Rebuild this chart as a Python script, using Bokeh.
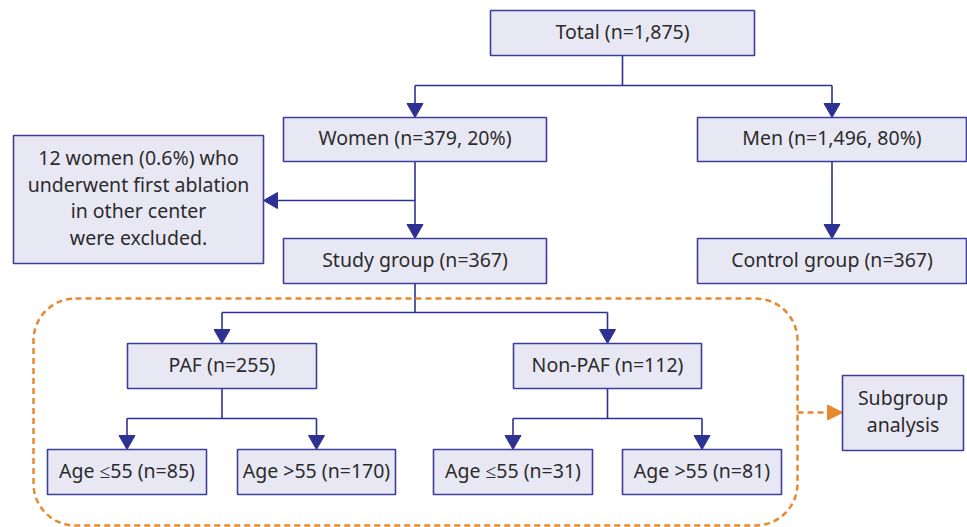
from bokeh.plotting import figure
from bokeh.models import Range1d, BoxAnnotation
from bokeh.core.properties import value
from bokeh.embed import file_html
from bokeh.resources import INLINE

# ---- data ----
total_n = 1875
women_n, women_pct = 379, 20
men_n, men_pct = 1496, 80
excluded_n, excluded_pct = 12, 0.6
study_n = 367
control_n = 367
paf_n = 255
nonpaf_n = 112
paf_age_n = [85, 170]
nonpaf_age_n = [31, 81]

labels = {
    "total": f"Total (n={total_n:,})",
    "women": f"Women (n={women_n:,}, {women_pct}%)",
    "men": f"Men (n={men_n:,}, {men_pct}%)",
    "excl": f"{excluded_n} women ({excluded_pct}%) who\nunderwent first ablation\nin other center\nwere excluded.",
    "study": f"Study group (n={study_n})",
    "control": f"Control group (n={control_n})",
    "paf": f"PAF (n={paf_n})",
    "nonpaf": f"Non-PAF (n={nonpaf_n})",
    "paf_le": f"Age \u226455 (n={paf_age_n[0]})",
    "paf_gt": f"Age >55 (n={paf_age_n[1]})",
    "np_le": f"Age \u226455 (n={nonpaf_age_n[0]})",
    "np_gt": f"Age >55 (n={nonpaf_age_n[1]})",
    "sub": "Subgroup\nanalysis",
}

# ---- layout (left, right, top, bottom) ----
layout = {
    "total": (490, 754, 10, 55),
    "women": (283, 546, 117, 161),
    "men": (697, 966, 117, 161),
    "excl": (13, 263, 135, 263),
    "study": (283, 546, 238, 283),
    "control": (697, 966, 238, 283),
    "paf": (127, 316, 343, 388),
    "nonpaf": (513, 701, 343, 388),
    "paf_le": (47, 206, 449, 494),
    "paf_gt": (237, 395, 449, 494),
    "np_le": (433, 592, 449, 494),
    "np_gt": (622, 781, 449, 494),
    "sub": (842, 963, 375, 450),
}
branch_y = {"total": 85, "study": 312, "paf": 418, "nonpaf": 418}
tree = {"total": ["women", "men"], "study": ["paf", "nonpaf"],
        "paf": ["paf_le", "paf_gt"], "nonpaf": ["np_le", "np_gt"]}
straight = [("women", "study"), ("men", "control")]

FILL = "#e8e8f4"
EDGE = "#3d3d9c"
LINE = "#2e3192"
ORANGE = "#e8892f"
TXT = "#2b2b2b"
AH_W, AH_H = 16, 14

p = figure(width=967, height=527, output_backend="svg", toolbar_location=None,
           x_range=Range1d(0, 967), y_range=Range1d(527, 0),
           min_border=0, outline_line_color=None)
p.axis.visible = False
p.grid.visible = False
p.background_fill_color = "white"
p.border_fill_color = "white"

def cx(k):
    l, r, t, b = layout[k]
    return (l + r) / 2

# connectors
xs, ys = [], []
heads_x, heads_y = [], []
def down_arrow(x, y0, y1):
    xs.append([x, x]); ys.append([y0, y1 - AH_H])
    heads_x.append([x - AH_W / 2, x + AH_W / 2, x])
    heads_y.append([y1 - AH_H, y1 - AH_H, y1])

for parent, kids in tree.items():
    px = cx(parent); pb = layout[parent][3]; by = branch_y[parent]
    xs.append([px, px]); ys.append([pb, by])
    kx = [cx(k) for k in kids]
    xs.append([min(kx), max(kx)]); ys.append([by, by])
    for k in kids:
        down_arrow(cx(k), by, layout[k][2])
for a, b in straight:
    down_arrow(cx(a), layout[a][3], layout[b][2])

# exclusion arrow (to the left)
ex_y = 200
ex_x0 = cx("women")
ex_tip = layout["excl"][1]
xs.append([ex_x0, ex_tip + AH_H]); ys.append([ex_y, ex_y])
heads_x.append([ex_tip + AH_H, ex_tip + AH_H, ex_tip])
heads_y.append([ex_y - AH_W / 2, ex_y + AH_W / 2, ex_y])

p.multi_line(xs, ys, line_color=LINE, line_width=1.6)
p.patches(heads_x, heads_y, fill_color=LINE, line_color=LINE)

# dashed rounded region
region = BoxAnnotation(left=33, right=797, top=298, bottom=525,
                       fill_alpha=0, fill_color=None,
                       line_color=ORANGE, line_alpha=1.0, line_width=2.5,
                       line_dash="6 4", border_radius=42)
p.add_layout(region)

# dashed arrow to subgroup box
sub_l = layout["sub"][0]
sy = 412
p.line([797, sub_l - 15], [sy, sy], line_color=ORANGE, line_width=2.5, line_dash="6 4")
p.patch([sub_l - 15, sub_l - 15, sub_l], [sy - 7.5, sy + 7.5, sy],
        fill_color=ORANGE, line_color=ORANGE)

# boxes
keys = list(layout.keys())
p.quad(left=[layout[k][0] for k in keys], right=[layout[k][1] for k in keys],
       top=[layout[k][2] for k in keys], bottom=[layout[k][3] for k in keys],
       fill_color=FILL, line_color=EDGE, line_width=1.6)

p.text(x=[cx(k) for k in keys],
       y=[(layout[k][2] + layout[k][3]) / 2 - 2 for k in keys],
       text=[labels[k] for k in keys],
       text_align="center", text_baseline="middle",
       text_font=value("Noto Sans"), text_font_size="19.5px",
       text_color=TXT, text_line_height=0.98)

open("out.html", "w").write(file_html(p, INLINE))
